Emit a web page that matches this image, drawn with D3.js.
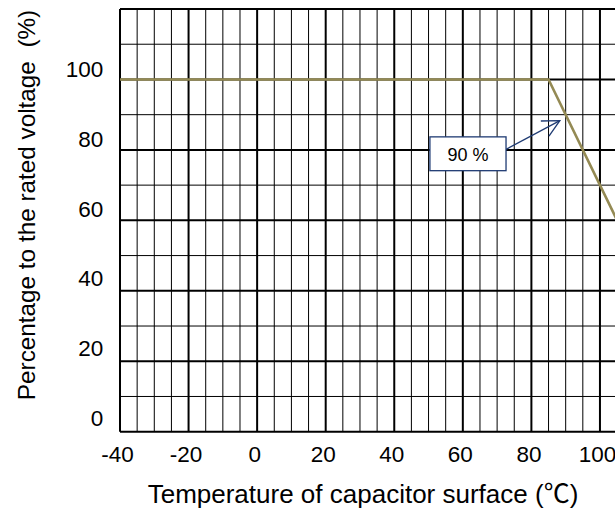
<!DOCTYPE html>
<html>
<head>
<meta charset="utf-8">
<script src="https://cdn.jsdelivr.net/npm/d3@7"></script>
<style>
  html, body { margin: 0; padding: 0; background: #fff; }
  svg { display: block; }
  text { font-family: "Liberation Sans", Arial, sans-serif; fill: #000; }
</style>
</head>
<body>
<script>
// ---- data ----
const xTicks = [-40, -20, 0, 20, 40, 60, 80, 100];
const yTicks = [0, 20, 40, 60, 80, 100];
const temperatureC = [-40, 85, 105];
const ratedVoltagePct = [100, 100, 60];
const annotationText = "90 %";
const annotationTarget = [88.3, 88.3];        // arrow tip (temp, %)
const annotationBoxX = [50.4, 72.6];          // box extent in temp
const annotationBoxY = [74.1, 83.7];          // box extent in %
const xTitleParts = ["Temperature of capacitor surface (", "\u2103", ")"];
const yTitle = "Percentage to the rated voltage\u00a0\u00a0(%)";

// ---- layout ----
const W = 615, H = 509;
const svg = d3.select("body").append("svg").attr("width", W).attr("height", H);

const x = d3.scaleLinear().domain([-40, 105]).range([120, 617.1]);
const y = d3.scaleLinear().domain([0, 120]).range([431.7, 9]);
const yLabel = d3.scaleLinear().domain([0, 100]).range([425, 76.7]); // tick label baselines

// grid
const g = svg.append("g");
const vLines = d3.range(-40, 106, 5);
const hLines = d3.range(0, 121, 10);
g.selectAll("line.v").data(vLines).join("line")
  .attr("x1", d => x(d)).attr("x2", d => x(d))
  .attr("y1", y(0)).attr("y2", y(120))
  .attr("stroke", "#000")
  .attr("stroke-width", d => d % 20 === 0 ? 2 : 1);
g.selectAll("line.h").data(hLines).join("line")
  .attr("x1", x(-40)).attr("x2", W + 5)
  .attr("y1", d => y(d)).attr("y2", d => y(d))
  .attr("stroke", "#000")
  .attr("stroke-width", d => d % 20 === 0 ? 2 : 1);

// series
const pts = temperatureC.map((t, i) => [t, ratedVoltagePct[i]]);
svg.append("path")
  .datum(pts)
  .attr("d", d3.line().x(d => x(d[0])).y(d => y(d[1])))
  .attr("fill", "none")
  .attr("stroke", "#948A54")
  .attr("stroke-width", 2.6);

// x axis labels
const xAxis = svg.append("g")
  .attr("transform", `translate(0,${y(0)})`)
  .call(d3.axisBottom(x).tickValues(xTicks).tickSize(0).tickPadding(14.2).tickFormat(d => String(d)));
xAxis.select(".domain").remove();
xAxis.selectAll("text")
  .attr("font-size", 22.5)
  .attr("font-family", "Liberation Sans, Arial, sans-serif")
  .attr("transform", "translate(-3,0)");

// y axis labels
const yAxis = svg.append("g")
  .attr("transform", `translate(${x(-40)},0)`)
  .call(d3.axisLeft(y).tickValues(yTicks).tickSize(0).tickPadding(16.7).tickFormat(d => String(d)));
yAxis.select(".domain").remove();
yAxis.selectAll("text")
  .attr("font-size", 22.5)
  .attr("font-family", "Liberation Sans, Arial, sans-serif")
  .attr("dy", null)
  .attr("y", d => yLabel(d) - y(d));

// titles
const xt = svg.append("text")
  .attr("x", 363).attr("y", 503.3)
  .attr("text-anchor", "middle")
  .attr("font-size", 26);
xt.append("tspan").text(xTitleParts[0]);
xt.append("tspan").attr("font-family", "Noto Sans CJK JP, sans-serif").text(xTitleParts[1]);
xt.append("tspan").text(xTitleParts[2]);
svg.append("text")
  .attr("transform", "translate(35,205) rotate(-90)")
  .attr("text-anchor", "middle")
  .attr("font-size", 24.3)
  .text(yTitle);

// annotation
const blue = "#1F3B73";
const bx0 = x(annotationBoxX[0]), bx1 = x(annotationBoxX[1]);
const by0 = y(annotationBoxY[1]), by1 = y(annotationBoxY[0]);
const tip = [x(annotationTarget[0]), y(annotationTarget[1])];
const start = [bx1, by0 + (by1 - by0) * 0.37];
svg.append("line")
  .attr("x1", start[0]).attr("y1", start[1])
  .attr("x2", tip[0]).attr("y2", tip[1])
  .attr("stroke", blue).attr("stroke-width", 1.3);
const ang = Math.atan2(start[1] - tip[1], start[0] - tip[0]);
const len = 19, spread = 27 * Math.PI / 180;
const a1 = [tip[0] + len * Math.cos(ang - spread), tip[1] + len * Math.sin(ang - spread)];
const a2 = [tip[0] + len * Math.cos(ang + spread), tip[1] + len * Math.sin(ang + spread)];
svg.append("path")
  .attr("d", `M${a1[0]},${a1[1]}L${tip[0]},${tip[1]}L${a2[0]},${a2[1]}`)
  .attr("fill", "none").attr("stroke", blue).attr("stroke-width", 1.3);
svg.append("rect")
  .attr("x", bx0).attr("y", by0)
  .attr("width", bx1 - bx0).attr("height", by1 - by0)
  .attr("fill", "#fff").attr("stroke", blue).attr("stroke-width", 1.3);
svg.append("text")
  .attr("x", (bx0 + bx1) / 2).attr("y", by0 + 24.3)
  .attr("text-anchor", "middle")
  .attr("font-size", 18)
  .text(annotationText);
</script>
</body>
</html>
